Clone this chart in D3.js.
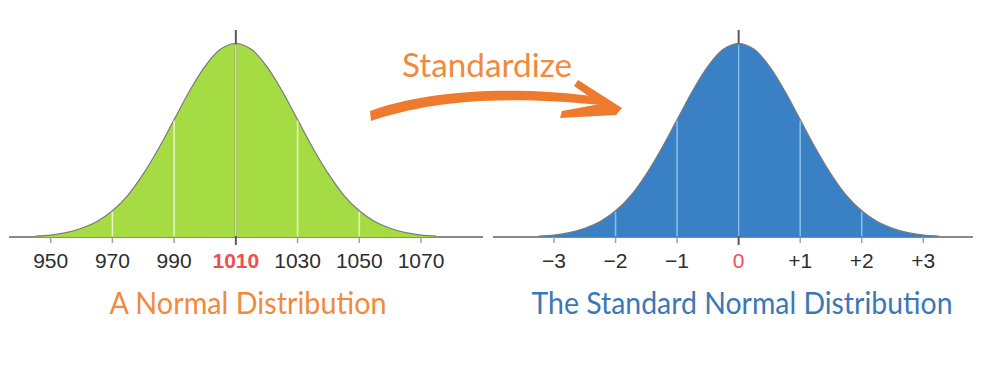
<!DOCTYPE html>
<html><head><meta charset="utf-8">
<script src="https://cdn.jsdelivr.net/npm/d3@7/dist/d3.min.js"></script>
<style>html,body{margin:0;padding:0;background:#fff;}svg{display:block;}</style>
</head><body><svg id="c" width="1004" height="368"></svg>
<script>
// ---- data ----
const density = [0.002,0.004,0.009,0.018,0.032,0.054,0.086,0.130,0.183,0.242,0.301,0.352,0.387,0.399,
                 0.387,0.352,0.301,0.242,0.183,0.130,0.086,0.054,0.032,0.018,0.009,0.004,0.002];
const leftScores = [945,950,955,960,965,970,975,980,985,990,995,1000,1005,1010,
                    1015,1020,1025,1030,1035,1040,1045,1050,1055,1060,1065,1070,1075];
const rightScores = [-3.25,-3,-2.75,-2.5,-2.25,-2,-1.75,-1.5,-1.25,-1,-0.75,-0.5,-0.25,0,
                     0.25,0.5,0.75,1,1.25,1.5,1.75,2,2.25,2.5,2.75,3,3.25];
const leftTicks = [950,970,990,1010,1030,1050,1070];
const leftTickLabels = ["950","970","990","1010","1030","1050","1070"];
const rightTicks = [-3,-2,-1,0,1,2,3];
const rightTickLabels = ["\u22123","\u22122","\u22121","0","+1","+2","+3"];
const leftGuides = [970,990,1010,1030,1050];
const rightGuides = [-2,-1,0,1,2];
const leftMean = 1010, rightMean = 0;
const titles = {left:"A Normal Distribution", right:"The Standard Normal Distribution", arrow:"Standardize"};

const svg = d3.select("#c");
const axisY = 237;
const y = d3.scaleLinear().domain([0, 0.399]).range([axisY, 43.5]);

function panel(opt){
  const x = d3.scaleLinear().domain(opt.domain).range(opt.range);
  const g = svg.append("g");
  const pts = opt.scores.map((s,i)=>({s, d: density[i]}));
  g.append("line").attr("x1",opt.axisX[0]).attr("x2",opt.axisX[1])
    .attr("y1",axisY).attr("y2",axisY).attr("stroke","#8a8a8a").attr("stroke-width",2);
  const area = d3.area().x(p=>x(p.s)).y0(axisY).y1(p=>y(p.d)).curve(d3.curveCatmullRom);
  g.append("path").datum(pts).attr("d",area).attr("fill",opt.fill);
  const line = d3.line().x(p=>x(p.s)).y(p=>y(p.d)).curve(d3.curveCatmullRom);
  g.append("path").datum(pts).attr("d",line).attr("fill","none").attr("stroke","#7a7a7a").attr("stroke-width",1.2);
  g.selectAll("line.tk").data(opt.ticks.filter(t=>t!==opt.mean)).enter().append("line")
    .attr("x1",d=>x(d)).attr("x2",d=>x(d)).attr("y1",axisY).attr("y2",axisY+6)
    .attr("stroke","#a0a0a0").attr("stroke-width",1.5);
  g.append("line").attr("x1",x(opt.mean)).attr("x2",x(opt.mean)).attr("y1",30).attr("y2",axisY+8)
    .attr("stroke","#5a5a5a").attr("stroke-width",2);
  g.selectAll("line.gd").data(opt.guides).enter().append("line")
    .attr("x1",d=>x(d)).attr("x2",d=>x(d)).attr("y1",axisY-1)
    .attr("y2",d=>y(density[opt.scores.indexOf(d)])+1)
    .attr("stroke",d=>d===opt.mean?opt.meanGuide:opt.guide).attr("stroke-width",1.6);
  g.selectAll("text.tl").data(opt.ticks).enter().append("text")
    .attr("x",d=>x(d)).attr("y",268).attr("text-anchor","middle")
    .attr("font-family","Liberation Sans, Arial, sans-serif").attr("font-size",21)
    .attr("fill",d=>d===opt.mean?"#ee4f52":"#2e2e2e")
    .attr("font-weight",d=>d===opt.mean && opt.boldMean?"bold":"normal")
    .text((d,i)=>opt.labels[i]);
  g.append("text").attr("x",opt.titleX).attr("y",314).attr("text-anchor","middle")
    .attr("font-family","Lato, sans-serif").attr("font-size",30).attr("fill",opt.titleColor)
    .attr("textLength",opt.titleW).attr("lengthAdjust","spacingAndGlyphs").text(opt.title);
}

panel({domain:[950,1070], range:[50.7,421], axisX:[9,483], scores:leftScores, ticks:leftTicks,
  labels:leftTickLabels, guides:leftGuides, mean:leftMean, fill:"#a6dc43", guide:"#e6f5c2",
  meanGuide:"#d4ee8e", boldMean:true, title:titles.left, titleX:248, titleW:277, titleColor:"#f08a3c"});
panel({domain:[-3,3], range:[554,923.3], axisX:[493,973], scores:rightScores, ticks:rightTicks,
  labels:rightTickLabels, guides:rightGuides, mean:rightMean, fill:"#3a80c4", guide:"#86bde9",
  meanGuide:"#86bde9", boldMean:false, title:titles.right, titleX:742, titleW:421, titleColor:"#3b78b6"});

const orange = "#ee7a2e";
svg.append("text").attr("x",487).attr("y",77).attr("text-anchor","middle")
  .attr("font-family","Lato, sans-serif").attr("font-size",32).attr("fill","#ef8a3f")
  .attr("textLength",170).attr("lengthAdjust","spacingAndGlyphs").text(titles.arrow);
svg.append("path").attr("d","M370,111 C420,93 500,84 600,97 L601,105 C500,95 430,101 371,121 Z").attr("fill",orange);
svg.append("path").attr("d","M578,80 L622,108 L616,115 L560,118 L562,111 L600,104 L574,86 Z").attr("fill",orange);
</script></body></html>
